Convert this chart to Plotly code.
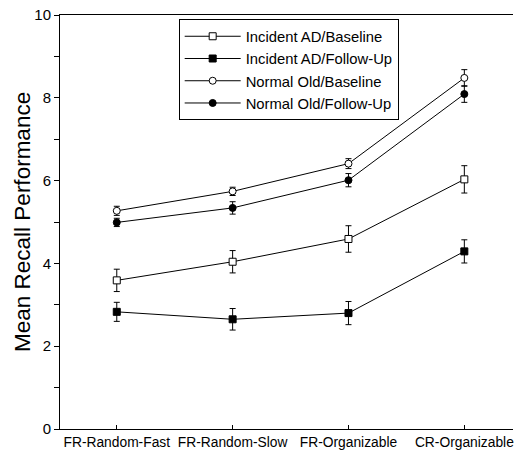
import plotly.graph_objects as go

categories = ["FR-Random-Fast", "FR-Random-Slow", "FR-Organizable", "CR-Organizable"]

ad_base = [3.59, 4.04, 4.59, 6.03]
ad_base_err = [0.27, 0.27, 0.32, 0.33]
ad_fu = [2.83, 2.65, 2.80, 4.29]
ad_fu_err = [0.23, 0.26, 0.28, 0.28]
no_base = [5.27, 5.74, 6.41, 8.48]
no_base_err = [0.11, 0.10, 0.12, 0.20]
no_fu = [4.99, 5.34, 6.01, 8.09]
no_fu_err = [0.10, 0.15, 0.16, 0.20]

series = [
    ("Incident AD/Baseline", ad_base, ad_base_err, "square", "white"),
    ("Incident AD/Follow-Up", ad_fu, ad_fu_err, "square", "black"),
    ("Normal Old/Baseline", no_base, no_base_err, "circle", "white"),
    ("Normal Old/Follow-Up", no_fu, no_fu_err, "circle", "black"),
]

fig = go.Figure()
for name, vals, errs, sym, fill in series:
    fig.add_trace(go.Scatter(
        x=categories, y=vals, name=name, mode="lines+markers",
        line=dict(color="black", width=1),
        marker=dict(symbol=sym, size=7, color=fill, line=dict(color="black", width=1)),
        error_y=dict(type="data", array=errs, visible=True, color="black", thickness=1, width=3),
    ))

font_family = "Liberation Sans, Arial, sans-serif"
fig.update_layout(
    width=515, height=451,
    margin=dict(l=60, r=1, t=15, b=20),
    paper_bgcolor="white", plot_bgcolor="white",
    font=dict(family=font_family, color="black"),
    showlegend=True,
    legend=dict(
        x=0.262, y=0.99, xanchor="left", yanchor="top",
        bordercolor="black", borderwidth=1, bgcolor="white",
        font=dict(size=14.8, family=font_family, color="black"),
        tracegroupgap=0, itemwidth=56,
    ),
    xaxis=dict(
        type="category", range=[-0.49, 3.42],
        showline=True, linecolor="black", linewidth=1, mirror=True,
        ticks="inside", ticklen=4, tickcolor="black",
        showgrid=False, zeroline=False,
        tickfont=dict(size=13.8, family=font_family, color="black"),
    ),
    yaxis=dict(
        range=[0, 10], tickvals=[0, 2, 4, 6, 8, 10],
        showline=True, linecolor="black", linewidth=1, mirror=False,
        ticks="outside", ticklen=5, tickcolor="black",
        minor=dict(tickvals=[1, 3, 5, 7, 9], ticks="outside", ticklen=5, tickcolor="black"),
        showgrid=False, zeroline=False,
        tickfont=dict(size=15, family=font_family, color="black"),
    ),
    annotations=[dict(
        text="Mean Recall Performance", xref="paper", yref="paper",
        x=-0.084, y=0.5, xanchor="center", yanchor="middle",
        textangle=-90, showarrow=False,
        font=dict(size=22.5, family=font_family, color="black"),
    )],
)

fig.write_html("out.html")
